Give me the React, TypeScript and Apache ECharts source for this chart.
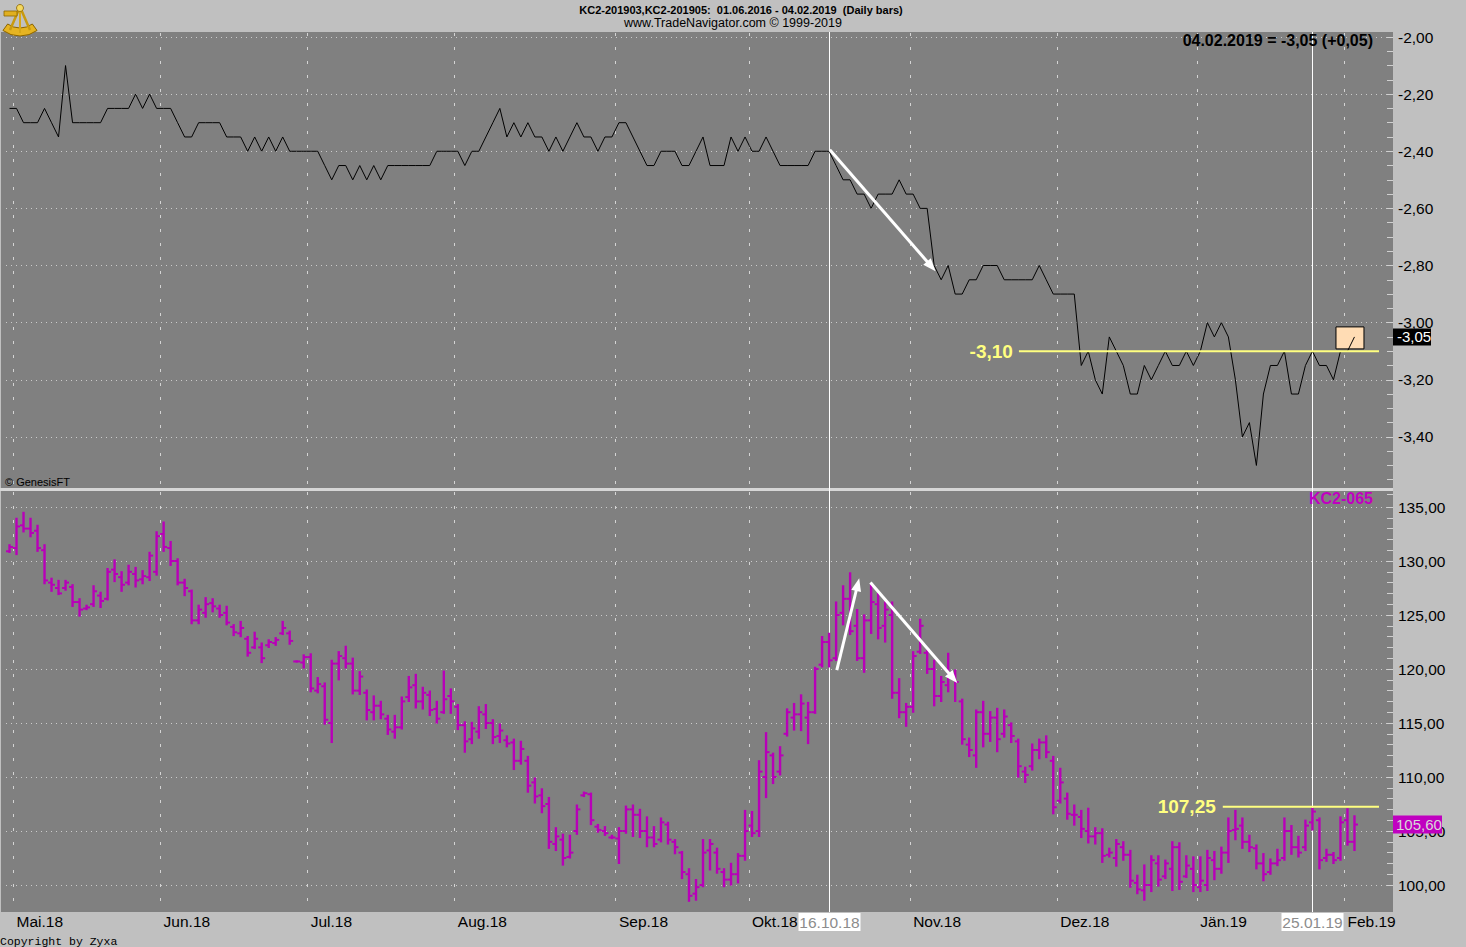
import React, { useEffect, useRef } from "react";
import * as echarts from "echarts";

const FONT = "'Liberation Sans', Arial, Helvetica, sans-serif";
const MONO = "'Liberation Mono', 'Courier New', monospace";

// ---------- calendar ----------
const SLOT_COUNT = 198;
const HOLIDAYS = ["2018-05-01", "2018-05-28", "2018-07-04", "2018-09-03", "2018-11-22", "2018-12-25", "2019-01-01", "2019-01-21"];
const MONTH_TAGS: Record<string, string> = {
  "2018-05": "Mai.18", "2018-06": "Jun.18", "2018-07": "Jul.18", "2018-08": "Aug.18", "2018-09": "Sep.18",
  "2018-10": "Okt.18", "2018-11": "Nov.18", "2018-12": "Dez.18", "2019-01": "Jän.19", "2019-02": "Feb.19",
};
const CURSOR_DATES = ["16.10.18", "25.01.19"];

// ---------- spread KC2-201903 - KC2-201905 (daily close) ----------
const spreadClose = [
  -2.25, -2.25, -2.30, -2.30, -2.30, -2.25, -2.30, -2.35, -2.10, -2.30,
  -2.30, -2.30, -2.30, -2.30, -2.25, -2.25, -2.25, -2.25, -2.20, -2.25,
  -2.20, -2.25, -2.25, -2.25, -2.30, -2.35, -2.35, -2.30, -2.30, -2.30,
  -2.30, -2.35, -2.35, -2.35, -2.40, -2.35, -2.40, -2.35, -2.40, -2.35,
  -2.40, -2.40, -2.40, -2.40, -2.40, -2.45, -2.50, -2.45, -2.45, -2.50,
  -2.45, -2.50, -2.45, -2.50, -2.45, -2.45, -2.45, -2.45, -2.45, -2.45,
  -2.45, -2.40, -2.40, -2.40, -2.40, -2.45, -2.40, -2.40, -2.35, -2.30,
  -2.25, -2.35, -2.30, -2.35, -2.30, -2.35, -2.35, -2.40, -2.35, -2.40,
  -2.35, -2.30, -2.35, -2.35, -2.40, -2.35, -2.35, -2.30, -2.30, -2.35,
  -2.40, -2.45, -2.45, -2.40, -2.40, -2.40, -2.45, -2.45, -2.40, -2.35,
  -2.45, -2.45, -2.45, -2.35, -2.40, -2.35, -2.40, -2.40, -2.35, -2.40,
  -2.45, -2.45, -2.45, -2.45, -2.45, -2.40, -2.40, -2.40, -2.45, -2.50,
  -2.50, -2.55, -2.55, -2.60, -2.55, -2.55, -2.55, -2.50, -2.55, -2.55,
  -2.60, -2.60, -2.80, -2.85, -2.80, -2.90, -2.90, -2.85, -2.85, -2.80,
  -2.80, -2.80, -2.85, -2.85, -2.85, -2.85, -2.85, -2.80, -2.85, -2.90,
  -2.90, -2.90, -2.90, -3.15, -3.10, -3.20, -3.25, -3.05, -3.10, -3.15,
  -3.25, -3.25, -3.15, -3.20, -3.15, -3.10, -3.15, -3.15, -3.10, -3.15,
  -3.10, -3.00, -3.05, -3.00, -3.05, -3.20, -3.40, -3.35, -3.50, -3.25,
  -3.15, -3.15, -3.10, -3.25, -3.25, -3.15, -3.10, -3.15, -3.15, -3.20,
  -3.10, -3.10, -3.05,
];

// ---------- KC2-065 daily OHLC ----------
const barOpen = [
  130.9, 131.2, 133.3, 133.0, 132.8, 131.0, 128.0, 127.5, 127.5, 127.6,
  126.2, 125.6, 126.0, 126.8, 126.5, 129.2, 128.5, 128.0, 128.8, 128.3,
  128.5, 129.0, 132.5, 131.2, 130.0, 128.0, 127.2, 124.5, 125.2, 126.1,
  125.6, 125.2, 123.9, 123.3, 122.8, 122.0, 122.0, 122.2, 122.4, 123.3,
  123.3, 120.7, 120.6, 121.1, 118.0, 118.4, 115.0, 120.5, 121.0, 120.5,
  118.0, 117.8, 116.0, 116.6, 115.4, 114.2, 114.6, 117.4, 118.5, 117.0,
  117.6, 116.3, 116.0, 117.5, 116.5, 114.8, 113.5, 114.2, 115.8, 115.0,
  113.8, 113.4, 113.2, 111.5, 111.5, 109.5, 108.3, 107.5, 103.8, 104.2,
  102.6, 105.0, 108.3, 108.4, 105.4, 105.0, 104.4, 104.3, 105.0, 107.0,
  106.5, 105.0, 104.4, 104.2, 105.6, 104.0, 103.0, 101.0, 99.2, 100.0,
  103.2, 103.0, 101.2, 100.5, 101.0, 102.7, 105.5, 105.0, 110.0, 112.0,
  110.5, 114.0, 115.5, 115.8, 115.5, 116.0, 120.4, 122.5, 121.0, 125.2,
  126.5, 124.0, 121.0, 124.5, 126.0, 124.0, 125.0, 117.8, 116.0, 116.5,
  121.6, 121.5, 120.0, 117.5, 118.5, 119.5, 117.0, 113.0, 112.0, 116.0,
  114.0, 115.5, 114.0, 114.8, 113.3, 110.5, 111.0, 112.5, 113.2, 111.5,
  107.8, 108.0, 106.5, 106.3, 105.0, 104.5, 104.8, 102.8, 102.5, 103.5,
  102.8, 100.2, 99.5, 100.0, 102.0, 100.8, 101.5, 103.5, 100.8, 101.5,
  99.8, 100.0, 102.3, 101.5, 103.0, 105.1, 105.5, 104.0, 103.4, 102.0,
  101.2, 102.0, 102.5, 105.0, 103.5, 103.5, 105.8, 106.0, 102.5, 102.8,
  102.5, 106.0, 104.0,
];
const barHigh = [
  131.5, 133.95, 134.5, 133.95, 133.3, 131.5, 128.4, 128.2, 128.2, 127.8,
  126.5, 125.9, 127.7, 127.1, 129.3, 130.1, 129.0, 129.6, 129.4, 129.1,
  130.8, 132.7, 133.6, 131.8, 130.2, 128.3, 127.3, 125.9, 126.6, 126.5,
  125.9, 125.8, 124.1, 124.4, 123.0, 123.4, 122.4, 122.7, 122.9, 124.4,
  123.5, 120.75, 121.3, 121.4, 119.2, 118.7, 120.8, 121.6, 122.1, 121.0,
  119.75, 118.05, 117.5, 117.0, 115.7, 115.7, 117.4, 119.3, 119.5, 118.3,
  117.95, 117.0, 119.8, 118.15, 116.7, 115.1, 115.05, 116.5, 116.7, 115.3,
  114.9, 113.8, 113.5, 113.3, 111.9, 109.9, 108.9, 108.1, 105.3, 104.7,
  104.6, 107.4, 108.6, 108.5, 105.6, 105.4, 104.6, 105.3, 107.3, 107.4,
  107.0, 106.3, 105.4, 106.2, 105.8, 104.2, 103.1, 101.5, 100.5, 104.2,
  104.2, 103.4, 101.5, 102.0, 102.9, 106.9, 106.8, 111.5, 114.1, 112.2,
  112.8, 116.3, 116.8, 117.6, 116.9, 120.15, 123.0, 123.3, 126.2, 127.7,
  128.9, 125.5, 125.0, 127.8, 127.0, 126.2, 126.2, 119.1, 116.8, 121.6,
  124.6, 121.9, 120.8, 119.3, 121.45, 119.9, 117.2, 113.6, 116.2, 117.0,
  116.05, 116.35, 116.2, 115.0, 113.5, 110.9, 113.05, 113.5, 113.8, 111.9,
  110.8, 108.5, 107.4, 106.9, 107.1, 105.3, 105.2, 103.4, 104.2, 104.0,
  103.2, 100.9, 101.85, 102.7, 102.7, 102.3, 104.0, 103.9, 102.7, 102.6,
  102.6, 103.2, 103.1, 103.5, 106.2, 106.9, 106.2, 104.6, 103.7, 102.9,
  102.4, 103.3, 106.2, 105.5, 104.5, 106.0, 107.1, 106.2, 103.3, 103.0,
  106.3, 107.05, 106.4,
];
const barLow = [
  130.8, 130.6, 132.7, 132.25, 130.9, 127.9, 127.2, 126.9, 127.3, 125.8,
  124.9, 125.5, 125.8, 125.7, 126.4, 128.1, 127.2, 127.8, 127.6, 127.9,
  128.2, 128.7, 130.9, 129.6, 127.8, 126.8, 124.2, 124.2, 124.8, 125.3,
  124.8, 124.1, 123.1, 123.0, 121.2, 121.9, 120.6, 122.0, 122.2, 123.2,
  122.3, 120.65, 120.1, 117.9, 117.8, 114.9, 113.2, 119.0, 120.1, 117.7,
  117.65, 115.3, 115.3, 115.4, 113.95, 113.6, 114.45, 117.0, 116.4, 116.3,
  115.7, 115.0, 115.9, 115.9, 114.4, 112.3, 113.1, 113.6, 114.5, 113.1,
  113.2, 112.8, 110.7, 111.2, 108.6, 107.6, 106.7, 103.4, 103.2, 101.85,
  102.5, 104.7, 108.2, 105.6, 104.9, 104.6, 104.3, 102.0, 104.8, 104.5,
  104.4, 103.55, 103.55, 104.0, 103.8, 102.9, 100.6, 98.5, 98.6, 99.85,
  101.4, 101.1, 99.85, 100.0, 100.2, 102.3, 104.5, 104.5, 108.1, 109.4,
  110.2, 113.8, 114.35, 114.3, 113.1, 115.9, 120.2, 120.2, 120.8, 124.1,
  123.2, 120.8, 119.7, 123.3, 122.8, 122.5, 117.3, 115.5, 114.7, 116.0,
  121.45, 119.6, 116.6, 117.0, 117.9, 117.0, 113.05, 111.9, 110.9, 112.8,
  113.3, 112.35, 113.7, 113.2, 110.0, 109.5, 110.65, 111.7, 111.8, 106.6,
  107.6, 106.1, 105.55, 104.4, 103.9, 103.8, 102.1, 102.6, 101.75, 102.3,
  99.8, 99.2, 98.6, 99.4, 99.9, 100.6, 99.5, 99.6, 100.7, 99.4,
  99.4, 99.5, 100.5, 101.1, 102.1, 104.2, 103.4, 103.1, 101.5, 100.4,
  101.0, 101.8, 102.3, 102.85, 102.6, 103.2, 105.1, 101.5, 102.2, 102.0,
  102.3, 103.7, 103.2,
];
const barClose = [
  131.3, 133.2, 133.0, 132.6, 131.2, 128.2, 127.8, 127.0, 128.0, 126.2,
  125.5, 125.7, 127.2, 126.3, 129.0, 128.8, 127.8, 129.0, 128.2, 128.6,
  130.5, 132.3, 131.3, 130.0, 128.0, 127.5, 124.5, 125.5, 126.0, 125.8,
  125.0, 124.3, 123.4, 123.8, 121.5, 122.8, 121.0, 122.5, 122.7, 123.8,
  122.6, 120.7, 121.1, 118.2, 118.6, 115.3, 120.5, 121.2, 120.5, 118.0,
  119.3, 116.2, 116.6, 115.8, 114.4, 114.6, 117.0, 118.3, 117.0, 117.8,
  116.2, 115.4, 117.2, 117.0, 114.8, 113.3, 114.5, 116.0, 115.0, 113.7,
  114.3, 113.1, 111.5, 112.6, 109.2, 108.2, 107.3, 104.0, 104.5, 102.5,
  103.0, 107.0, 108.5, 106.0, 105.1, 104.8, 104.4, 105.0, 107.0, 106.5,
  105.0, 104.4, 103.8, 105.8, 104.2, 103.5, 101.2, 99.0, 99.8, 103.0,
  103.8, 101.5, 100.5, 101.0, 102.7, 105.0, 104.8, 110.5, 112.3, 110.0,
  112.0, 116.0, 115.8, 116.8, 116.0, 120.0, 122.5, 120.8, 125.0, 126.5,
  123.5, 121.0, 124.5, 126.2, 123.8, 125.5, 117.8, 116.0, 116.5, 121.2,
  124.0, 120.0, 117.5, 118.8, 119.5, 118.8, 113.5, 112.5, 116.0, 114.0,
  115.5, 113.5, 115.6, 113.8, 111.0, 110.2, 112.5, 113.2, 112.3, 107.2,
  109.5, 106.6, 106.5, 105.2, 104.5, 104.8, 102.7, 103.0, 103.8, 102.8,
  100.4, 99.6, 100.0, 102.3, 100.5, 102.0, 103.5, 100.3, 101.8, 100.0,
  100.4, 102.5, 101.5, 103.0, 105.0, 105.2, 104.0, 103.5, 102.0, 101.0,
  102.0, 102.3, 105.0, 103.5, 103.0, 105.5, 106.8, 102.3, 102.8, 102.3,
  105.8, 104.0, 105.6,
];

// ---------- drawn annotations (data coordinates: [slot index, value]) ----------
const spreadSupport = { value: -3.10, fromIdx: 144.1, toIdx: 195.5, label: "-3,10" };
const futuresResistance = { value: 107.25, fromIdx: 173.2, toIdx: 195.5, label: "107,25" };
const spreadArrows = [{ from: [117.1, -2.395], to: [132.2, -2.82] }];
const futuresArrows = [
  { from: [118.1, 119.9], to: [121.3, 128.4] },
  { from: [122.9, 128.0], to: [135.3, 118.7] },
];

// ---------- derived ----------
const pad = (n: number) => String(n).padStart(2, "0");
type Slot = { iso: string; short: string; long: string; month: string };
const slots: Slot[] = [];
{
  const d = new Date(Date.UTC(2018, 3, 30));
  while (slots.length < SLOT_COUNT) {
    const dow = d.getUTCDay();
    const iso = d.toISOString().slice(0, 10);
    if (dow !== 0 && dow !== 6 && !HOLIDAYS.includes(iso)) {
      const dd = pad(d.getUTCDate());
      const mm = pad(d.getUTCMonth() + 1);
      const yyyy = String(d.getUTCFullYear());
      slots.push({ iso, short: `${dd}.${mm}.${yyyy.slice(2)}`, long: `${dd}.${mm}.${yyyy}`, month: iso.slice(0, 7) });
    }
    d.setUTCDate(d.getUTCDate() + 1);
  }
}
const categories = slots.map((s) => s.short);
const monthLabelAt: Record<number, string> = {};
slots.forEach((s, i) => {
  if ((i === 0 || slots[i - 1].month !== s.month) && MONTH_TAGS[s.month]) monthLabelAt[i] = MONTH_TAGS[s.month];
});
const monthStartIdx = Object.keys(monthLabelAt).map(Number);

const ohlc = barOpen.map((o, i) => [i, o, barHigh[i], barLow[i], barClose[i]]);
const fmt2 = (v: number) => v.toFixed(2).replace(".", ",");

const BAR_COLOR = "#b800b8";
const GRID_DOT = "#cbcbcb";
const TICK_COLOR = "#d0d0d0";

function valueAxis(gridIndex: number, min: number, max: number, interval: number, minorSplit: number, hideMin: boolean) {
  return {
    type: "value",
    gridIndex,
    position: "right",
    min,
    max,
    interval,
    axisLine: { show: false },
    axisTick: { show: true, inside: true, length: 6, lineStyle: { color: TICK_COLOR, width: 1 } },
    minorTick: { show: true, splitNumber: minorSplit, length: 6, lineStyle: { color: TICK_COLOR, width: 1 } },
    splitLine: { show: true, showMinLine: !hideMin, lineStyle: { color: GRID_DOT, width: 1, type: [1, 4] } },
    axisLabel: {
      show: true,
      margin: 5,
      color: "#000",
      fontSize: 15.5,
      fontFamily: FONT,
      showMinLabel: !hideMin,
      formatter: (v: number) => fmt2(v),
    },
  };
}

function hiddenXAxis(gridIndex: number) {
  return { type: "category", gridIndex, data: categories, boundaryGap: true, show: false };
}

const baseOption: any = {
  animation: false,
  backgroundColor: "#c0c0c0",
  grid: [
    { left: 6, right: 73, top: 37, height: 457, outerBoundsMode: "none" },
    { left: 6, right: 73, top: 507, height: 378, outerBoundsMode: "none" },
    { left: 6, right: 73, top: 491, height: 421, outerBoundsMode: "none" },
  ],
  xAxis: [
    hiddenXAxis(0),
    hiddenXAxis(1),
    {
      type: "category",
      gridIndex: 2,
      data: categories,
      boundaryGap: true,
      axisLine: { show: false },
      axisTick: { show: false },
      splitLine: { show: false },
      axisLabel: {
        show: true,
        interval: (idx: number) => monthLabelAt[idx] !== undefined,
        formatter: (_v: string, idx: number) => monthLabelAt[idx] ?? "",
        align: "left",
        margin: 1,
        color: "#000",
        fontSize: 15.5,
        fontFamily: FONT,
      },
    },
  ],
  yAxis: [
    valueAxis(0, -3.6, -2.0, 0.2, 4, true),
    valueAxis(1, 100, 135, 5, 5, false),
    { type: "value", gridIndex: 2, min: 0, max: 1, show: false },
  ],
  series: [
    {
      type: "line",
      name: "KC2-201903,KC2-201905",
      xAxisIndex: 0,
      yAxisIndex: 0,
      data: spreadClose,
      symbol: "none",
      showSymbol: false,
      lineStyle: { color: "#000", width: 1 },
      z: 3,
      silent: true,
    },
    {
      type: "custom",
      name: "KC2-065",
      xAxisIndex: 1,
      yAxisIndex: 1,
      data: ohlc,
      encode: { x: 0, y: [1, 2, 3, 4] },
      z: 3,
      silent: true,
      renderItem: (_params: any, api: any) => {
        const idx = api.value(0);
        const o = api.coord([idx, api.value(1)]);
        const h = api.coord([idx, api.value(2)]);
        const l = api.coord([idx, api.value(3)]);
        const c = api.coord([idx, api.value(4)]);
        const half = 3.5;
        const x = o[0];
        return {
          type: "group",
          children: [
            { type: "line", shape: { x1: x, y1: h[1] - 0.6, x2: x, y2: l[1] + 0.6 }, style: { stroke: BAR_COLOR, lineWidth: 2.4 } },
            { type: "line", shape: { x1: x - half, y1: o[1], x2: x, y2: o[1] }, style: { stroke: BAR_COLOR, lineWidth: 2 } },
            { type: "line", shape: { x1: x, y1: c[1], x2: x + half, y2: c[1] }, style: { stroke: BAR_COLOR, lineWidth: 2 } },
          ],
        };
      },
    },
  ],
};

function txt(x: number, y: number, text: string, opts: any = {}) {
  const align = opts.align ?? "left";
  return {
    type: "text",
    z: opts.z ?? 20,
    x,
    y,
    silent: true,
    style: {
      text,
      fill: opts.fill ?? "#000",
      fontSize: opts.size ?? 12,
      fontWeight: opts.bold ? "bold" : "normal",
      fontFamily: opts.family ?? FONT,
      align,
      textAlign: align,
      verticalAlign: "middle",
      textVerticalAlign: "middle",
    },
  };
}

function arrowEls(p0: number[], p1: number[]) {
  const dx = p1[0] - p0[0];
  const dy = p1[1] - p0[1];
  const len = Math.hypot(dx, dy) || 1;
  const ux = dx / len;
  const uy = dy / len;
  const hl = 13;
  const hw = 5;
  const bx = p1[0] - ux * hl;
  const by = p1[1] - uy * hl;
  return [
    { type: "line", z: 20, silent: true, shape: { x1: p0[0], y1: p0[1], x2: bx + ux * 3, y2: by + uy * 3 }, style: { stroke: "#ffffff", lineWidth: 3 } },
    {
      type: "polygon",
      z: 20,
      silent: true,
      shape: { points: [[p1[0], p1[1]], [bx - uy * hw, by + ux * hw], [bx + uy * hw, by - ux * hw]] },
      style: { fill: "#ffffff" },
    },
  ];
}

export default function App() {
  const ref = useRef<HTMLDivElement>(null);

  useEffect(() => {
    if (!ref.current) return;
    const chart = echarts.init(ref.current, null, { renderer: "svg" });
    chart.setOption(baseOption);

    const toPx = (grid: number, i: number, v: number) => {
      const a = chart.convertToPixel({ gridIndex: grid } as any, [0, v]) as number[];
      const b = chart.convertToPixel({ gridIndex: grid } as any, [1, v]) as number[];
      return [a[0] + (b[0] - a[0]) * i, a[1]];
    };

    const last = spreadClose.length - 1;
    const lastSpread = spreadClose[last];
    const change = lastSpread - spreadClose[last - 1];
    const lastBar = barClose[barClose.length - 1];
    const headerRight = `${slots[last].long} = ${fmt2(lastSpread)} (${change >= 0 ? "+" : ""}${fmt2(change)})`;

    const els: any[] = [];
    // panel backgrounds
    els.push({ type: "rect", z: -10, silent: true, shape: { x: 1, y: 32, width: 1392, height: 456 }, style: { fill: "#808080" } });
    els.push({ type: "rect", z: -10, silent: true, shape: { x: 0, y: 488, width: 1393, height: 3 }, style: { fill: "#d6d6d6" } });
    els.push({ type: "rect", z: -10, silent: true, shape: { x: 1, y: 491, width: 1392, height: 421 }, style: { fill: "#808080" } });

    // month separators (dashed) at the left edge of each month's first bar
    monthStartIdx.forEach((idx) => {
      const x = Math.round(toPx(0, idx - 0.5, -2)[0]) + 0.5;
      els.push({ type: "line", z: -4, silent: true, shape: { x1: x, y1: 33, x2: x, y2: 488 }, style: { stroke: "#d4d4d4", lineWidth: 1, lineDash: [3, 11] } });
      els.push({ type: "line", z: -4, silent: true, shape: { x1: x, y1: 492, x2: x, y2: 912 }, style: { stroke: "#d4d4d4", lineWidth: 1, lineDash: [3, 11] } });
    });

    // cursor lines + date flags
    CURSOR_DATES.forEach((d) => {
      const idx = categories.indexOf(d);
      if (idx < 0) return;
      const x = Math.round(toPx(0, idx, -2)[0]) + 0.5;
      els.push({ type: "line", z: -3, silent: true, shape: { x1: x, y1: 32, x2: x, y2: 912 }, style: { stroke: "#ffffff", lineWidth: 1 } });
      els.push({ type: "rect", z: 20, silent: true, shape: { x: x - 31, y: 913, width: 62, height: 18 }, style: { fill: "#ffffff" } });
      els.push(txt(x, 922, d, { align: "center", size: 15.5, fill: "#8c8c8c" }));
    });

    // last-bar marker box in the spread panel
    const lp = toPx(0, last, lastSpread);
    els.push({ type: "rect", z: 1, silent: true, shape: { x: lp[0] - 18.5, y: lp[1] - 10, width: 28, height: 22 }, style: { fill: "#ffdcb4", stroke: "#000", lineWidth: 1 } });

    // yellow levels
    const s0 = toPx(0, spreadSupport.fromIdx, spreadSupport.value);
    const s1 = toPx(0, spreadSupport.toIdx, spreadSupport.value);
    els.push({ type: "line", z: 20, silent: true, shape: { x1: s0[0], y1: s0[1], x2: s1[0], y2: s1[1] }, style: { stroke: "#ffff80", lineWidth: 2 } });
    els.push(txt(s0[0] - 6, s0[1], spreadSupport.label, { align: "right", size: 19, bold: true, fill: "#ffff80" }));
    const r0 = toPx(1, futuresResistance.fromIdx, futuresResistance.value);
    const r1 = toPx(1, futuresResistance.toIdx, futuresResistance.value);
    els.push({ type: "line", z: 20, silent: true, shape: { x1: r0[0], y1: r0[1], x2: r1[0], y2: r1[1] }, style: { stroke: "#ffff80", lineWidth: 2 } });
    els.push(txt(r0[0] - 7, r0[1], futuresResistance.label, { align: "right", size: 19, bold: true, fill: "#ffff80" }));

    // arrows
    spreadArrows.forEach((a) => els.push(...arrowEls(toPx(0, a.from[0], a.from[1]), toPx(0, a.to[0], a.to[1]))));
    futuresArrows.forEach((a) => els.push(...arrowEls(toPx(1, a.from[0], a.from[1]), toPx(1, a.to[0], a.to[1]))));

    // last value flags on the price scales
    els.push({ type: "rect", z: 20, silent: true, shape: { x: 1393, y: lp[1] - 8.5, width: 38, height: 17 }, style: { fill: "#000" } });
    els.push(txt(1397, lp[1], fmt2(lastSpread), { size: 15, fill: "#ffffff" }));
    const bp = toPx(1, barClose.length - 1, lastBar);
    els.push({ type: "rect", z: 20, silent: true, shape: { x: 1393, y: bp[1] - 9, width: 49, height: 18 }, style: { fill: "#c000c0" } });
    els.push(txt(1396, bp[1], fmt2(lastBar), { size: 15, fill: "#d8d8d8" }));

    // header & captions
    els.push(txt(741, 9.5, "KC2-201903,KC2-201905:  01.06.2016 - 04.02.2019  (Daily bars)", { align: "center", size: 11, bold: true }));
    els.push(txt(733, 23, "www.TradeNavigator.com © 1999-2019", { align: "center", size: 12.5 }));
    els.push(txt(1373, 40, headerRight, { align: "right", size: 16, bold: true }));
    els.push(txt(5, 482, "© GenesisFT", { size: 11 }));
    els.push(txt(1373, 498, "KC2-065", { align: "right", size: 16, bold: true, fill: "#c000c0" }));
    els.push(txt(0, 941, "Copyright by Zyxa", { size: 11.5, family: MONO }));

    // sextant logo
    els.push({
      type: "group",
      x: 3,
      y: 3,
      z: 30,
      silent: true,
      children: [
        { type: "sector", shape: { cx: 17, cy: 4, r: 29, r0: 21, startAngle: Math.PI * 0.3, endAngle: Math.PI * 0.7 }, style: { fill: "#e6b422", stroke: "#8a6400", lineWidth: 1 } },
        { type: "polyline", shape: { points: [[7, 27], [17, 4], [27, 27]] }, style: { stroke: "#c89a10", lineWidth: 2.5, fill: "none" } },
        { type: "line", shape: { x1: 17, y1: 4, x2: 17, y2: 30 }, style: { stroke: "#d8a818", lineWidth: 2 } },
        { type: "rect", shape: { x: 1, y: 8, width: 13, height: 5 }, style: { fill: "#e0b020", stroke: "#8a6400", lineWidth: 0.8 } },
        { type: "circle", shape: { cx: 17, cy: 5, r: 3.5 }, style: { fill: "#f4d860", stroke: "#8a6400", lineWidth: 0.8 } },
      ],
    });

    chart.setOption({ graphic: { elements: els } });
    return () => chart.dispose();
  }, []);

  return <div ref={ref} style={{ position: "fixed", left: 0, top: 0, width: 1466, height: 947 }} />;
}
